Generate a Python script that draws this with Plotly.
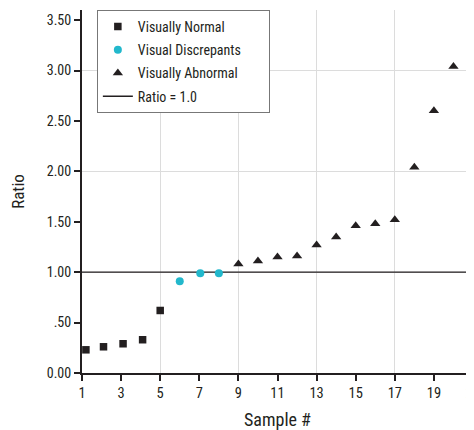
import plotly.graph_objects as go

# Data
normal_x = [1.2, 2.1, 3.1, 4.1, 5.0]
normal_y = [0.23, 0.26, 0.29, 0.33, 0.62]
discrep_x = [6.0, 7.05, 8.0]
discrep_y = [0.91, 0.99, 0.99]
abnormal_x = [9, 10, 11, 12, 13, 14, 15, 16, 17, 18, 19, 20]
abnormal_y = [1.08, 1.11, 1.15, 1.16, 1.27, 1.35, 1.46, 1.48, 1.52, 2.04, 2.60, 3.04]
ratio_x = [1, 21]
ratio_y = [1.0, 1.0]

y_tickvals = [0, 0.5, 1.0, 1.5, 2.0, 2.5, 3.0, 3.5]
y_ticktext = ["0.00", ".50", "1.00", "1.50", "2.00", "2.50", "3.00", "3.50"]
x_tickvals = [1, 3, 5, 7, 9, 11, 13, 15, 17, 19, 21]

FONT = "Roboto Condensed, Roboto, sans-serif"
INK = "#231f20"
CYAN = "#22b8cc"
GRID = "#dcdcdc"
PAD = "\u00a0" * 7  # widen the legend box like the reference

fig = go.Figure()
fig.add_trace(go.Scatter(x=ratio_x, y=ratio_y, mode="lines", name="Ratio = 1.0",
                         line=dict(color=INK, width=1.4), legendrank=4, legendgroup="d"))
fig.add_trace(go.Scatter(x=normal_x, y=normal_y, mode="markers", name="Visually Normal",
                         marker=dict(symbol="square", size=7.5, color=INK), legendrank=1,
                         legendgroup="a"))
fig.add_trace(go.Scatter(x=discrep_x, y=discrep_y, mode="markers",
                         name="Visual Discrepants" + PAD,
                         marker=dict(symbol="circle", size=8, color=CYAN), legendrank=2,
                         legendgroup="b"))
fig.add_trace(go.Scatter(x=abnormal_x, y=abnormal_y, mode="markers", name="Visually Abnormal",
                         marker=dict(symbol="triangle-up", size=9, color=INK), legendrank=3,
                         legendgroup="c"))
fig.add_trace(go.Scatter(x=[None], y=[None], xaxis="x2", yaxis="y2", showlegend=False,
                         hoverinfo="skip"))

fig.update_layout(
    width=466, height=422,
    margin=dict(l=74, r=1, t=2, b=57),
    plot_bgcolor="white", paper_bgcolor="white",
    font=dict(family=FONT, size=14, color=INK),
    showlegend=True,
    legend=dict(x=0.038, y=1.0, xanchor="left", yanchor="top",
                bordercolor="#777777", borderwidth=1, bgcolor="white",
                font=dict(size=14), tracegroupgap=2, itemwidth=30,
                traceorder="grouped"),
    xaxis=dict(range=[1, 21], tickvals=x_tickvals, ticks="outside", ticklen=6,
               tickwidth=1.5, tickcolor=INK, showline=True, linecolor=INK, linewidth=2,
               showgrid=False, zeroline=False, automargin=False,
               ticklabeloverflow="allow", tickfont=dict(size=14.5),
               title=dict(text="Sample #", font=dict(size=18), standoff=12)),
    yaxis=dict(range=[0, 3.6], tickvals=y_tickvals, ticktext=y_ticktext, ticks="outside",
               ticklen=6, tickwidth=1.5, tickcolor=INK, showline=True, linecolor=INK,
               linewidth=2, showgrid=False, zeroline=False, automargin=False,
               tickfont=dict(size=14),
               title=dict(text="Ratio", font=dict(size=17), standoff=21)),
    xaxis2=dict(overlaying="x", matches="x", range=[1, 21], tick0=1, dtick=4,
                showgrid=True, gridcolor=GRID, gridwidth=1, showticklabels=False,
                ticks="", showline=False, zeroline=False, automargin=False),
    yaxis2=dict(overlaying="y", matches="y", range=[0, 3.6], tick0=0, dtick=1,
                showgrid=True, gridcolor=GRID, gridwidth=1, showticklabels=False,
                ticks="", showline=False, zeroline=False, automargin=False),
)

fig.write_html("out.html")
